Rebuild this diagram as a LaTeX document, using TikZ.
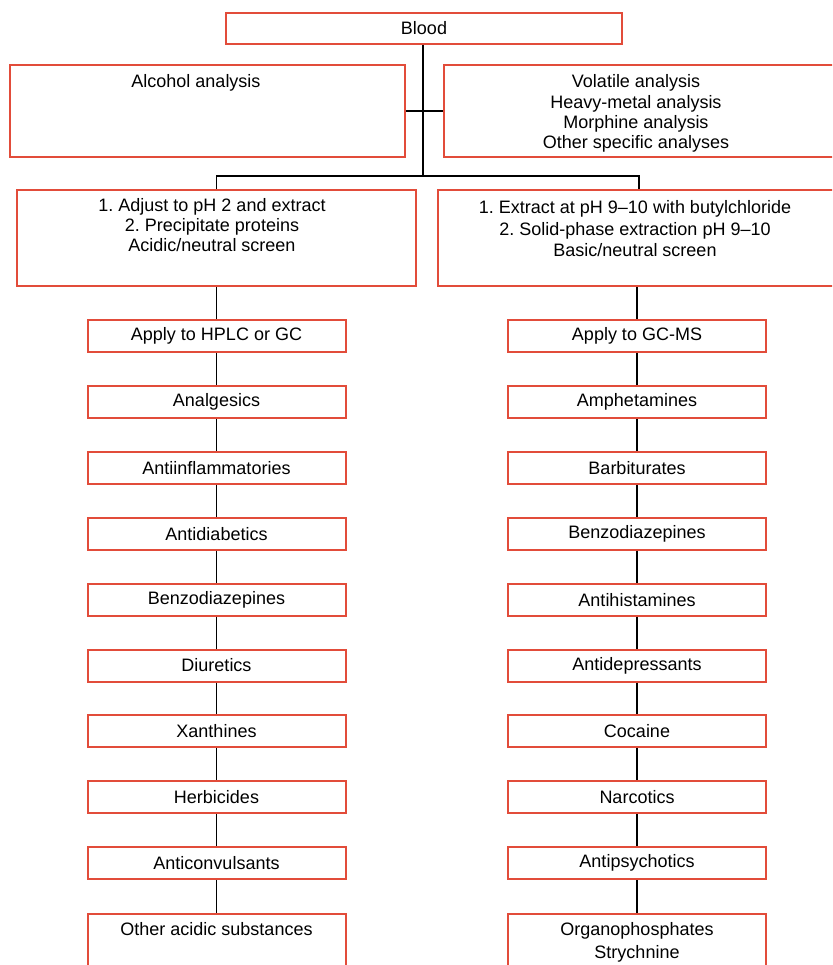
\documentclass[tikz,border=0pt]{standalone}
\usepackage{fontspec}
\setmainfont{Liberation Sans}
\definecolor{boxred}{RGB}{226,76,58}
\frenchspacing
\begin{document}
\begin{tikzpicture}[x=1pt,y=-1pt,
  box/.style={draw=boxred, line width=2pt, inner sep=0pt, fill=white, font=\fontsize{18}{20.5}\selectfont},
  small/.style={box, minimum width=258pt, minimum height=32pt},
  txt/.style={inner sep=0pt, align=center, anchor=north, font=\fontsize{18}{20.3}\selectfont},
  conn/.style={draw=black, line width=1.3pt}]
\clip (0,0) rectangle (832,965);
\fill[white] (0,0) rectangle (832,965);

% top
\node[box, minimum width=396pt, minimum height=31pt] (blood) at (424,28.5) {Blood};
\node[box, minimum width=395pt, minimum height=92pt] (alc) at (207.5,111) {};
\node[box, minimum width=396pt, minimum height=92pt] (vol) at (642,111) {};
\node[txt] (alct) at (196,74.5) {Alcohol analysis};
\node[txt] (volt) at (636,74.5) {Volatile analysis\\Heavy-metal analysis\\Morphine analysis\\Other specific analyses};

% extraction boxes
\node[box, minimum width=399pt, minimum height=96pt] (acid) at (216.5,238) {};
\node[box, minimum width=402pt, minimum height=96pt] (basic) at (639,238) {};
\node[txt, font=\fontsize{18}{19.8}\selectfont] (acidt) at (212,198.5) {1. Adjust to pH 2 and extract\\2. Precipitate proteins\\Acidic/neutral screen};
\node[txt, font=\fontsize{18}{21.5}\selectfont] (basict) at (635,200.5) {1. Extract at pH 9–10 with butylchloride\\2. Solid-phase extraction pH 9–10\\Basic/neutral screen};

\coordinate (split) at (423,176);
\draw[conn] (blood.south -| split) -- (split);
\draw[conn] (alc.east) -- (vol.west);
\draw[conn] (split) -| (acid.north);
\draw[conn] (split) -| (basic.north);

% columns
\foreach \i/\lab in {0/Apply to HPLC or GC,1/Analgesics,2/Antiinflammatories,3/Antidiabetics,4/Benzodiazepines,5/Diuretics,6/Xanthines,7/Herbicides,8/Anticonvulsants}
  \node[small] (L\i) at (216.5,{336+65.9*\i}) {\lab};
\foreach \i/\lab in {0/Apply to GC-MS,1/Amphetamines,2/Barbiturates,3/Benzodiazepines,4/Antihistamines,5/Antidepressants,6/Cocaine,7/Narcotics,8/Antipsychotics}
  \node[small] (R\i) at (637,{336+65.9*\i}) {\lab};

\node[box, minimum width=258pt, minimum height=80pt, anchor=north] (L9) at (216.5,913) {};
\node[box, minimum width=258pt, minimum height=80pt, anchor=north] (R9) at (637,913) {};
\node[txt] (L9t) at (216.5,922.5) {Other acidic substances};
\node[txt, font=\fontsize{18}{23}\selectfont] (R9t) at (637,922.5) {Organophosphates\\Strychnine};

\draw[conn] (acid.south) -- (L0.north);
\draw[conn] (basic.south -| R0.north) -- (R0.north);
\foreach \i [evaluate=\i as \j using int(\i+1)] in {0,...,8} {
  \draw[conn] (L\i.south) -- (L\j.north);
  \draw[conn] (R\i.south) -- (R\j.north);
}
\end{tikzpicture}
\end{document}
